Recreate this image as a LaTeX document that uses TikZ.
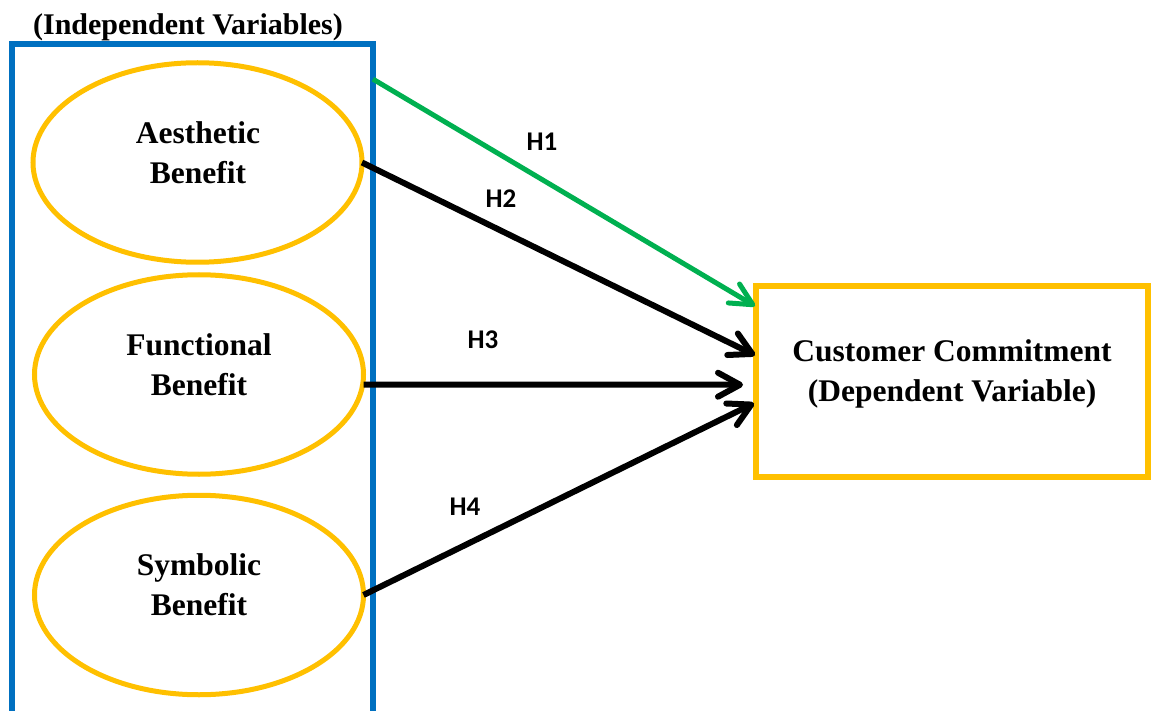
\documentclass[tikz,border=0pt]{standalone}
\usepackage{fontspec}
\setmainfont{Liberation Serif}
\newfontfamily\hfont{Carlito}
\usetikzlibrary{arrows.meta,shapes.geometric,calc}
\definecolor{cblue}{HTML}{0070C0}
\definecolor{cyel}{HTML}{FFC000}
\definecolor{cgreen}{HTML}{00B050}
\begin{document}
\begin{tikzpicture}[x=0.5pt,y=-0.5pt,
  benefit/.style={ellipse, draw=cyel, line width=2.5pt, minimum width=164.5pt, minimum height=99.75pt, inner sep=0pt, outer sep=0pt},
  btext/.style={font=\fontsize{15.75}{20}\selectfont\bfseries, align=center, inner sep=0pt},
  hlabel/.style={font=\hfont\fontsize{13.5}{16}\selectfont\bfseries, inner sep=0pt},
  hyp/.style={line width=3pt, -{Straight Barb[length=11pt,width=12pt,round]}},
  hypg/.style={line width=2.5pt, draw=cgreen, -{Straight Barb[length=11pt,width=11pt,round]}},
]
\useasboundingbox (0,0) rectangle (1151,711);
\clip (0,0) rectangle (1151,711);
\fill[white] (0,0) rectangle (1151,711);

% container of independent variables
\node[draw=cblue, line width=3pt, rectangle, minimum width=180.35pt, minimum height=358pt, inner sep=0pt, outer sep=0pt] (indep) at (192.65,401.85) {};
\node[font=\fontsize{15}{18}\selectfont\bfseries, anchor=base, inner sep=0pt] (title) at (188,35) {(Independent Variables)};

% ellipses
\node[benefit] (aes) at (197.5,162.5) {};
\node[btext] (aest) at (198,152.5) {Aesthetic\\Benefit};
\node[benefit] (fun) at (199,374.5) {};
\node[btext] (funt) at (199,364.5) {Functional\\Benefit};
\node[benefit] (sym) at (199,595) {};
\node[btext] (symt) at (199,585) {Symbolic\\Benefit};

% dependent variable
\node[draw=cyel, line width=3pt, rectangle, minimum width=196pt, minimum height=95.25pt, inner sep=0pt, outer sep=0pt] (cc) at (952,381.25) {};
\node[btext] (cct) at (952,374) {Customer Commitment\\(Dependent Variable)};

% hypotheses
\draw[hypg] ($(indep.north east)+(0,35.3)$) -- ($(cc.north west)+(-1,20)$);
\draw[hyp] (aes.east) -- ($(cc.west)+(-1,-26)$);
\draw[hyp] ([yshift=-5pt]fun.east) -- ($(cc.west)+(-13,3.5)$);
\draw[hyp] (sym.east) -- ($(cc.west)+(-2,22)$);

\node[hlabel] (h1) at (542,142) {H1};
\node[hlabel] (h2) at (501,199) {H2};
\node[hlabel] (h3) at (483,340) {H3};
\node[hlabel] (h4) at (465,507) {H4};
\end{tikzpicture}
\end{document}
